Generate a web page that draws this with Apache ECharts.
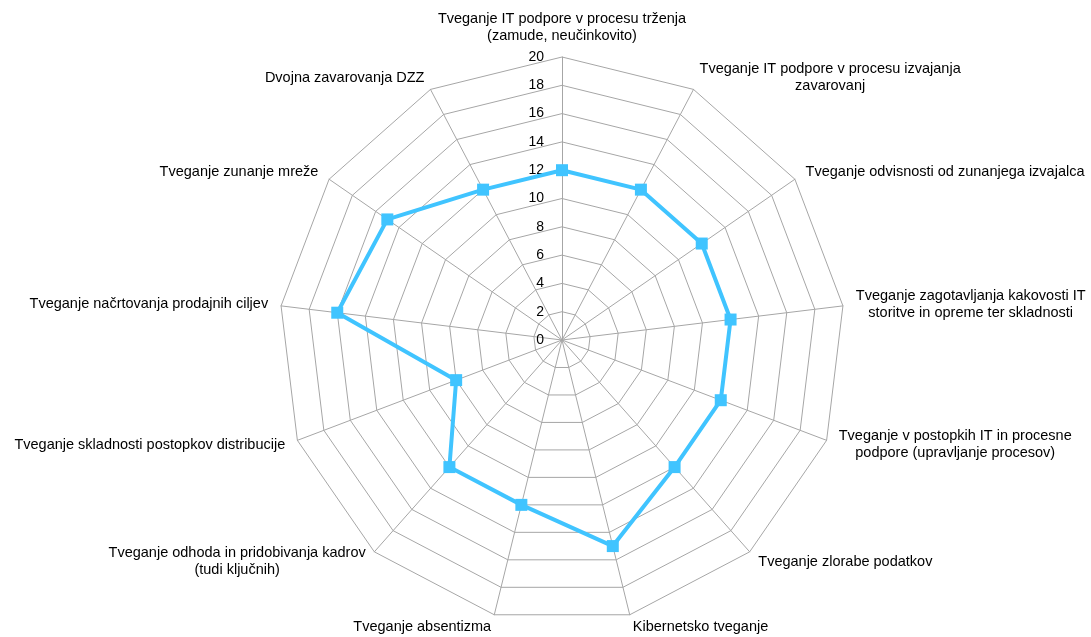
<!DOCTYPE html>
<html><head><meta charset="utf-8">
<script src="https://cdn.jsdelivr.net/npm/echarts@6/dist/echarts.min.js"></script>
<style>html,body{margin:0;padding:0;background:#fff}#c{width:1091px;height:637px}</style>
</head><body><div id="c"></div>
<script>
// categories and values listed clockwise starting at the top
const categories = [
  "Tveganje IT podpore v procesu trženja\n(zamude, neučinkovito)",
  "Tveganje IT podpore v procesu izvajanja\nzavarovanj",
  "Tveganje odvisnosti od zunanjega izvajalca",
  "Tveganje zagotavljanja kakovosti IT\nstoritve in opreme ter skladnosti",
  "Tveganje v postopkih IT in procesne\npodpore (upravljanje procesov)",
  "Tveganje zlorabe podatkov",
  "Kibernetsko tveganje",
  "Tveganje absentizma",
  "Tveganje odhoda in pridobivanja kadrov\n(tudi ključnih)",
  "Tveganje skladnosti postopkov distribucije",
  "Tveganje načrtovanja prodajnih ciljev",
  "Tveganje zunanje mreže",
  "Dvojna zavarovanja DZZ"
];
const values = [12, 12, 12, 12, 12, 12, 15, 12, 12, 8, 16, 15, 12];
const axisMin = 0, axisMax = 20, axisStep = 2;

// ECharts radar runs counter-clockwise; reorder to draw clockwise
const order = [0].concat(categories.map((_, i) => i).slice(1).reverse());
const indicators = order.map(i => ({name: categories[i], min: axisMin, max: axisMax}));
const seriesValues = order.map(i => values[i]);

const FONT = 'Liberation Sans, Arial, sans-serif';
const chart = echarts.init(document.getElementById('c'), null, {renderer: 'canvas'});
const C = [562, 340], R = 283;
chart.setOption({
  animation: false,
  radar: {
    center: C, radius: R, startAngle: 90, splitNumber: (axisMax - axisMin) / axisStep,
    shape: 'polygon',
    indicator: indicators,
    axisName: {
      color: '#000', fontSize: 14.5, fontFamily: FONT, lineHeight: 17,
      formatter: (n) => n.split('\n').map(l => '{c|' + l + '}').join('\n'),
      rich: {c: {align: 'center', color: '#000', fontSize: 14.5, fontFamily: FONT, lineHeight: 17}}
    },
    nameGap: 13,
    splitArea: {show: false},
    splitLine: {lineStyle: {color: '#a6a6a6', width: 1}},
    axisLine: {lineStyle: {color: '#a6a6a6', width: 1}},
    axisTick: {show: false},
    axisLabel: {show: false}
  },
  polar: {center: C, radius: R},
  angleAxis: {show: false, startAngle: 90, min: 0, max: 360},
  radiusAxis: {
    min: axisMin, max: axisMax, interval: axisStep,
    axisLine: {show: false}, axisTick: {show: false}, splitLine: {show: false},
    axisLabel: {color: '#000', fontSize: 14, fontFamily: FONT, margin: 18}
  },
  series: [{
    type: 'radar',
    symbol: 'rect', symbolSize: 12,
    lineStyle: {color: '#40c4ff', width: 4},
    itemStyle: {color: '#40c4ff'},
    data: [{value: seriesValues}]
  }]
});
</script></body></html>
